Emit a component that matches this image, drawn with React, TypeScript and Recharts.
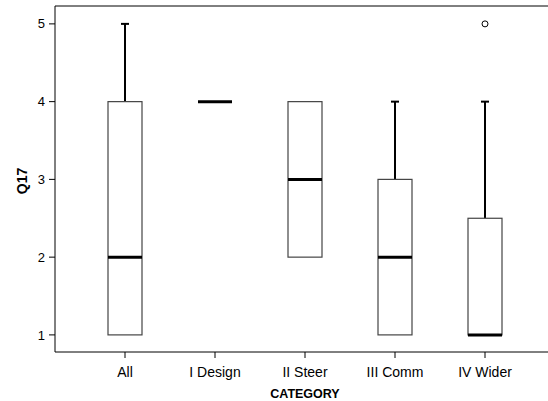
import React from "react";
import {
  ComposedChart,
  Bar,
  Scatter,
  XAxis,
  YAxis,
  Label,
  ReferenceLine,
} from "recharts";

// box plot values per category
const categories = ["All", "I Design", "II Steer", "III Comm", "IV Wider"];
const mins = [1, 4, 2, 1, 1];
const q1s = [1, 4, 2, 1, 1];
const medians = [2, 4, 3, 2, 1];
const q3s = [4, 4, 4, 3, 2.5];
const maxs = [5, 4, 4, 4, 4];
const outliers: (number | null)[] = [null, null, null, null, 5];
const yTicks = [1, 2, 3, 4, 5];
const yDomain: [number, number] = [0.78, 5.23];

const data = categories.map((name, i) => ({
  name,
  min: mins[i],
  q1: q1s[i],
  median: medians[i],
  q3: q3s[i],
  max: maxs[i],
  range: [mins[i], maxs[i]],
  outlier: outliers[i],
}));

const FONT = "'Liberation Sans', Arial, sans-serif";
const PAD_LEFT = 25;
const PAD_RIGHT = 18;

// draws whiskers, box and median from the pixel span of the [min, max] bar
function BoxShape(props: any) {
  const { x, y, width, height, payload } = props;
  const top = Math.min(y, y + height);
  const span = Math.abs(height);
  const lo = payload.min;
  const hi = payload.max;
  const py = (v: number) => (hi === lo ? top : top + ((hi - v) / (hi - lo)) * span);
  const cx = x + width / 2;
  const capW = 8;
  const yMax = py(payload.max);
  const yQ3 = py(payload.q3);
  const yMed = py(payload.median);
  const yQ1 = py(payload.q1);
  const yMin = py(payload.min);
  return (
    <g>
      {payload.max > payload.q3 && (
        <g>
          <line x1={cx} x2={cx} y1={yMax} y2={yQ3} stroke="#000" strokeWidth={2} />
          <line x1={cx - capW / 2} x2={cx + capW / 2} y1={yMax} y2={yMax} stroke="#000" strokeWidth={2} />
        </g>
      )}
      {payload.q1 > payload.min && (
        <g>
          <line x1={cx} x2={cx} y1={yQ1} y2={yMin} stroke="#000" strokeWidth={2} />
          <line x1={cx - capW / 2} x2={cx + capW / 2} y1={yMin} y2={yMin} stroke="#000" strokeWidth={2} />
        </g>
      )}
      {payload.q3 > payload.q1 && (
        <rect x={x} y={yQ3} width={width} height={yQ1 - yQ3} fill="#fff" stroke="#444" strokeWidth={1.2} />
      )}
      <line x1={x} x2={x + width} y1={yMed} y2={yMed} stroke="#000" strokeWidth={3} />
    </g>
  );
}

function Outlier(props: any) {
  const { cx, cy, payload } = props;
  if (payload.outlier == null) return null;
  return <circle cx={cx} cy={cy} r={3} fill="#fff" stroke="#000" strokeWidth={1} />;
}

export default function App() {
  const xTick = { fontSize: 14, fill: "#000", fontFamily: FONT };
  const yTick = { fontSize: 13, fill: "#000", fontFamily: FONT };
  return (
    <div style={{ position: "absolute", left: 0, top: 0, background: "#fff" }}>
      <ComposedChart
        width={548}
        height={401}
        data={data}
        margin={{ top: 6, right: 0, bottom: 0, left: 0 }}
      >
        <XAxis
          dataKey="name"
          height={49}
          padding={{ left: PAD_LEFT, right: PAD_RIGHT }}
          tick={xTick}
          tickSize={6}
          tickMargin={9}
          stroke="#000"
          tickLine={{ stroke: "#000" }}
          axisLine={{ stroke: "#000" }}
          interval={0}
        >
          <Label
            content={(p: any) => {
              const vb = p.viewBox;
              const cx = vb.x + PAD_LEFT + (vb.width - PAD_LEFT - PAD_RIGHT) / 2;
              return (
                <text
                  x={cx}
                  y={398}
                  textAnchor="middle"
                  fontFamily={FONT}
                  fontWeight="bold"
                  fontSize={12.5}
                  fill="#000"
                >
                  CATEGORY
                </text>
              );
            }}
          />
        </XAxis>
        <YAxis
          width={55}
          domain={yDomain}
          ticks={yTicks}
          allowDataOverflow
          tick={yTick}
          tickSize={6}
          tickMargin={4}
          tickLine={{ stroke: "#000" }}
          axisLine={{ stroke: "#000" }}
        >
          <Label
            content={(p: any) => {
              const vb = p.viewBox;
              const cy = vb.y + vb.height / 2 + 2;
              return (
                <text
                  x={22}
                  y={cy}
                  transform={`rotate(-90, 22, ${cy})`}
                  textAnchor="middle"
                  dominantBaseline="central"
                  fontFamily={FONT}
                  fontWeight="bold"
                  fontSize={14}
                  fill="#000"
                >
                  Q17
                </text>
              );
            }}
          />
        </YAxis>
        <ReferenceLine y={yDomain[1]} stroke="#000" strokeWidth={1} ifOverflow="visible" />
        <Bar
          dataKey="range"
          barSize={34}
          shape={<BoxShape />}
          isAnimationActive={false}
        />
        <Scatter dataKey="outlier" shape={<Outlier />} isAnimationActive={false} />
      </ComposedChart>
    </div>
  );
}
